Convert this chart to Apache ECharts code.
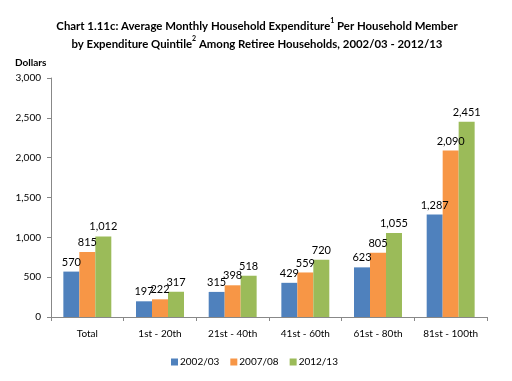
<!DOCTYPE html>
<html><head><meta charset="utf-8">
<script src="https://cdn.jsdelivr.net/npm/echarts@6/dist/echarts.min.js"></script>
<style>html,body{margin:0;padding:0;background:#fff}#c{width:512px;height:381px}</style>
</head><body><div id="c"></div>
<script>
const categories = ['Total', '1st - 20th', '21st - 40th', '41st - 60th', '61st - 80th', '81st - 100th'];
const seriesNames = ['2002/03', '2007/08', '2012/13'];
const v2002 = [570, 197, 315, 429, 623, 1287];
const v2007 = [815, 222, 398, 559, 805, 2090];
const v2012 = [1012, 317, 518, 720, 1055, 2451];
const colors = ['#4F81BD', '#F79646', '#9BBB59'];
const FONT = 'Lato';

const chart = echarts.init(document.getElementById('c'), null, {renderer: 'canvas'});
const mk = (name, data, i) => ({
  name, type: 'bar', data, barGap: '0%', barCategoryGap: '34%',
  itemStyle: {color: colors[i]},
  label: {show: true, position: 'top', distance: 4, color: '#000', fontFamily: FONT, fontSize: 11,
    formatter: p => p.value.toLocaleString('en-US')}
});
chart.setOption({
  animation: false,
  textStyle: {fontFamily: FONT},
  title: {
    left: 252, top: 12, textAlign: 'center',
    text: '{b|Chart 1.11c: Average Monthly Household Expenditure}{s|1}{b| Per Household Member}\n{b|by Expenditure Quintile}{s|2}{b| Among Retiree Households, 2002/03 - 2012/13}',
    textStyle: {
      rich: {
        b: {fontFamily: FONT, fontWeight: 'bold', fontSize: 11.4, color: '#000', lineHeight: 18},
        s: {fontFamily: FONT, fontWeight: 'bold', fontSize: 7, color: '#000', verticalAlign: 'top', lineHeight: 18, padding: [0,0,6,0]}
      }
    }
  },
  graphic: [{type: 'text', left: 15, top: 58, style: {text: 'Dollars', font: 'bold 10px ' + FONT, fill: '#000'}}],
  legend: {
    top: 352, left: 166, itemWidth: 7, itemHeight: 7, itemGap: 11, icon: 'rect',
    textStyle: {fontFamily: FONT, fontSize: 10, color: '#000', padding: [0,0,0,-3]},
    data: seriesNames
  },
  grid: {left: 51, right: 25, top: 78, bottom: 64},
  xAxis: {
    type: 'category', data: categories,
    axisLine: {lineStyle: {color: '#888'}},
    axisTick: {show: true, alignWithLabel: false, length: 4, lineStyle: {color: '#888'}},
    axisLabel: {fontFamily: FONT, fontSize: 10, color: '#000', margin: 12}
  },
  yAxis: {
    type: 'value', min: 0, max: 3000, interval: 500,
    splitLine: {show: false},
    axisLine: {show: true, lineStyle: {color: '#888'}},
    axisTick: {show: true, length: 4, lineStyle: {color: '#888'}},
    axisLabel: {fontFamily: FONT, fontSize: 10, color: '#000', margin: 10,
      formatter: v => v.toLocaleString('en-US')}
  },
  series: [mk(seriesNames[0], v2002, 0), mk(seriesNames[1], v2007, 1), mk(seriesNames[2], v2012, 2)]
});
</script></body></html>
